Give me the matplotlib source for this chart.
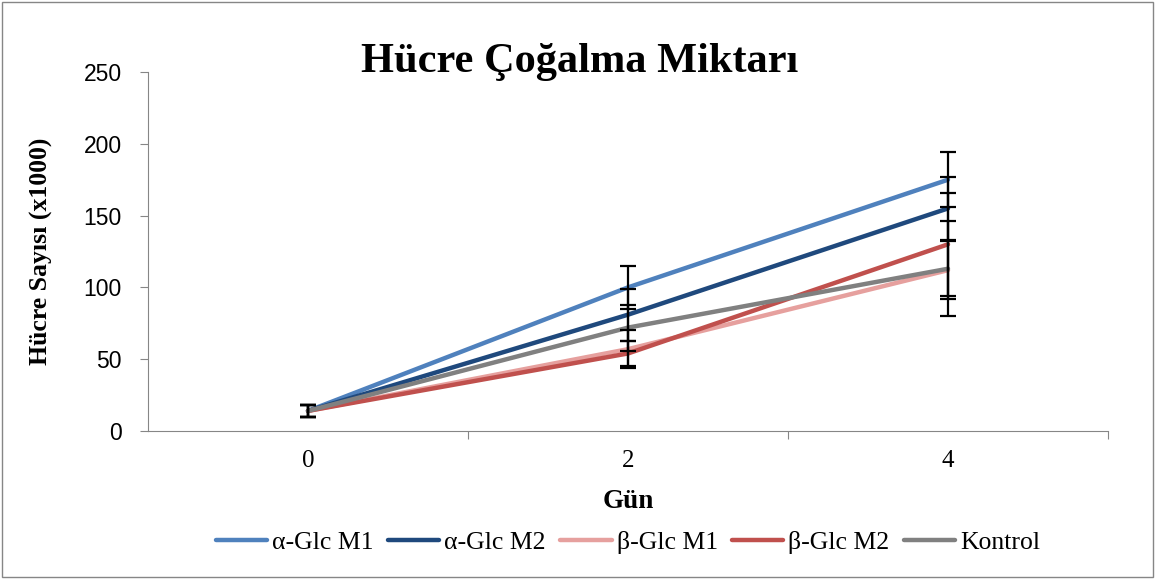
import matplotlib.pyplot as plt
from matplotlib.patches import Rectangle

days = ["0", "2", "4"]
series = ["α-Glc M1", "α-Glc M2", "β-Glc M1", "β-Glc M2", "Kontrol"]
a_m1 = [14, 100, 175]
a_m2 = [14, 81, 155]
b_m1 = [14, 57, 112]
b_m2 = [14, 54, 130]
kontrol = [14, 72, 113]
err_a_m1 = [4, 15, 19]
err_a_m2 = [4, 18, 22]
err_b_m1 = [4, 13, 20]
err_b_m2 = [4, 9, 36]
err_kontrol = [4, 16, 33]

values = [a_m1, a_m2, b_m1, b_m2, kontrol]
errors = [err_a_m1, err_a_m2, err_b_m1, err_b_m2, err_kontrol]
colors = ["#4F81BD", "#1F497D", "#E6A09E", "#C0504D", "#808080"]

serif = ["Liberation Serif", "DejaVu Serif"]

fig = plt.figure(figsize=(11.56, 5.79), dpi=100)
ax = fig.add_axes([148 / 1156, 1 - 431 / 579, 960 / 1156, 359 / 579])

x = list(range(len(days)))
for vals, errs, col, name in zip(values, errors, colors, series):
    ax.plot(x, vals, color=col, linewidth=3.2, label=name, zorder=3,
            solid_capstyle="round")
    ax.errorbar(x, vals, yerr=errs, fmt="none", ecolor="black",
                elinewidth=1.6, capsize=6, capthick=1.6, zorder=4)

ax.set_xlim(-0.5, 2.5)
ax.set_ylim(0, 250)
ax.set_yticks([0, 50, 100, 150, 200, 250])
ax.set_xticks([0.5, 1.5, 2.5])
ax.set_xticklabels([])
ax.set_xticks(x, minor=True)
ax.set_xticklabels(days, minor=True)
ax.tick_params(axis="x", which="minor", length=0, pad=14, labelsize=18)
ax.tick_params(axis="x", which="major", length=6, color="#868686")
ax.tick_params(axis="y", length=6, color="#868686", labelsize=16.5, pad=13)
for lab in ax.get_yticklabels():
    lab.set_fontfamily("Liberation Sans")
for lab in ax.get_xticklabels(minor=True):
    lab.set_fontfamily(serif)

ax.spines["top"].set_visible(False)
ax.spines["right"].set_visible(False)
ax.spines["left"].set_color("#868686")
ax.spines["bottom"].set_color("#868686")

ax.set_ylabel("Hücre Sayısı (x1000)", fontsize=18.5, fontweight="bold",
              family=serif, labelpad=22)
ax.set_xlabel("Gün", fontsize=19.5, fontweight="bold", family=serif, labelpad=12)
fig.text(580 / 1156, 1 - 62 / 579, "Hücre Çoğalma Miktarı", ha="center",
         va="center", fontsize=30.5, fontweight="bold", family=serif)

leg = ax.legend(loc="center", bbox_to_anchor=(0.5, -0.31), ncol=5,
                frameon=False, handlelength=2.0, handletextpad=0.2,
                columnspacing=0.55, prop={"family": serif, "size": 18.5})

fig.patches.append(Rectangle((0.002, 0.003), 0.995, 0.994,
                             transform=fig.transFigure, fill=False,
                             edgecolor="#868686", linewidth=1))

fig.savefig("out.png", dpi=100)
